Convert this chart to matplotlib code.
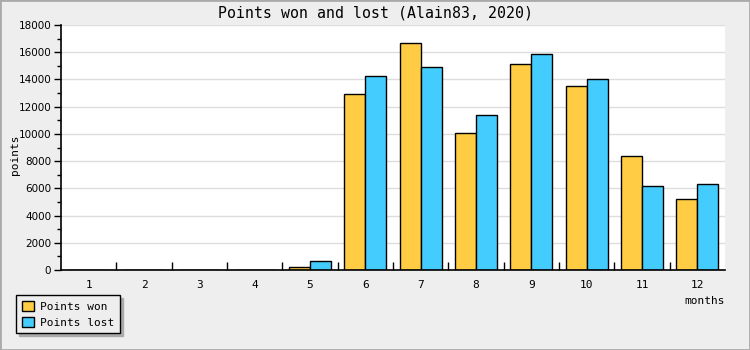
import numpy as np
import matplotlib
matplotlib.use("Agg")
import matplotlib.pyplot as plt
from matplotlib.patches import Patch, Rectangle
from matplotlib.ticker import MultipleLocator

# Data
months = ["1", "2", "3", "4", "5", "6", "7", "8", "9", "10", "11", "12"]
points_won = [0, 0, 0, 0, 200, 12900, 16650, 10050, 15120, 13500, 8380, 5200]
points_lost = [0, 0, 0, 0, 640, 14250, 14900, 11380, 15860, 14020, 6150, 6300]
series_names = ["Points won", "Points lost"]
colors = ["#ffcc44", "#44ccff"]

mono = "DejaVu Sans Mono"

fig = plt.figure(figsize=(7.5, 3.5), dpi=100, facecolor="#eeeeee")
ax = fig.add_axes([61 / 750, 1 - 270 / 350, 664 / 750, 245 / 350])
ax.set_facecolor("white")

x = np.arange(len(months))
w = 0.38
ax.bar(x - w / 2, points_won, w, color=colors[0], edgecolor="black", linewidth=1, zorder=3)
ax.bar(x + w / 2, points_lost, w, color=colors[1], edgecolor="black", linewidth=1, zorder=3)

ax.set_xlim(-0.5, len(months) - 0.5)
ax.set_ylim(0, 18000)

# y axis
ax.yaxis.set_major_locator(MultipleLocator(2000))
ax.yaxis.set_minor_locator(MultipleLocator(1000))
ax.tick_params(axis="y", which="major", length=5, width=1, labelsize=7.5, pad=2)
ax.tick_params(axis="y", which="minor", length=3, width=1)
ax.grid(axis="y", which="major", color="#dddddd", linewidth=1, zorder=0)

# x axis: labels at centres, ticks at group boundaries pointing inward
ax.set_xticks(x)
ax.set_xticklabels(months, fontsize=8, family=mono)
ax.tick_params(axis="x", which="major", length=0, pad=7)
ax.set_xticks(np.arange(0.5, len(months) - 0.5), minor=True)
ax.tick_params(axis="x", which="minor", direction="in", length=6, width=1)

for side in ("top", "right"):
    ax.spines[side].set_visible(False)
for side in ("left", "bottom"):
    ax.spines[side].set_linewidth(1.2)
    ax.spines[side].set_zorder(4)

fig.text(0.5, 1 - 13 / 350, "Points won and lost (Alain83, 2020)",
         ha="center", va="center", fontsize=10.7, family=mono)
fig.text(15 / 750, 1 - 155 / 350, "points", rotation=90,
         ha="center", va="center", fontsize=8, family=mono)
fig.text(725 / 750, 1 - 301 / 350, "months",
         ha="right", va="center", fontsize=8, family=mono)

handles = [Patch(facecolor=c, edgecolor="black", linewidth=1) for c in colors]
leg = fig.legend(handles, series_names, loc="upper left",
                 bbox_to_anchor=(16 / 750, 1 - 295 / 350),
                 prop={"family": mono, "size": 8}, frameon=True,
                 fancybox=False, shadow={"color": "#aaaaaa", "alpha": 1},
                 handlelength=1.1, handleheight=1.1, handletextpad=0.6,
                 borderpad=0.5, labelspacing=0.45, borderaxespad=0)
leg.get_frame().set_edgecolor("black")
leg.get_frame().set_facecolor("#eeeeee")
leg.get_frame().set_linewidth(1)

# grey border around the whole image
fig.patches.append(Rectangle((0, 0), 1, 1, transform=fig.transFigure,
                             fill=False, edgecolor="#aaaaaa", linewidth=2))

fig.savefig("out.png", dpi=100, facecolor=fig.get_facecolor())
